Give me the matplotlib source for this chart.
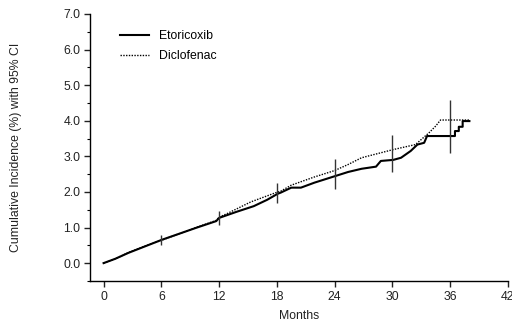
import numpy as np
import matplotlib as mpl
mpl.use('agg')
import matplotlib.pyplot as plt
from matplotlib.ticker import MultipleLocator, FormatStrFormatter

plt.rcParams['font.family'] = ['Liberation Sans', 'DejaVu Sans']

# Etoricoxib cumulative incidence (%)
eto_months = [0, 1.2, 2.6, 4.3, 6.0, 7.8, 9.6, 11.7, 12.0, 13.8, 15.6, 17.0, 18.1, 18.4,
              19.5, 20.5, 21.9, 24.0, 25.4, 26.8, 28.3, 28.8, 30.1, 30.9, 31.9, 32.6,
              33.3, 33.6, 36.1, 36.5, 36.5, 36.9, 36.9, 37.3, 37.3, 38.0]
eto_vals = [0.0, 0.12, 0.29, 0.47, 0.65, 0.82, 0.99, 1.18, 1.27, 1.44, 1.60, 1.78, 1.95, 1.98,
            2.12, 2.12, 2.26, 2.44, 2.56, 2.65, 2.71, 2.87, 2.90, 2.96, 3.15, 3.33,
            3.38, 3.57, 3.57, 3.57, 3.71, 3.71, 3.83, 3.83, 3.99, 3.99]

# Diclofenac cumulative incidence (%)
dic_months = [0, 1.2, 2.6, 4.3, 6.0, 7.8, 9.6, 11.7, 12.0, 12.9, 15.3, 17.9, 18.4, 19.5,
              21.9, 24.0, 25.4, 26.8, 30.1, 32.4, 33.2, 33.8, 34.5, 35.0, 38.0]
dic_vals = [0.0, 0.12, 0.30, 0.48, 0.64, 0.82, 1.00, 1.20, 1.29, 1.40, 1.72, 1.98, 2.02, 2.19,
            2.42, 2.60, 2.77, 2.96, 3.19, 3.33, 3.52, 3.66, 3.85, 4.02, 4.02]

# 95% CI bars (Etoricoxib)
ci_months = [6, 12, 18, 24, 30, 36]
ci_low = [0.50, 1.08, 1.70, 2.08, 2.55, 3.10]
ci_high = [0.80, 1.46, 2.26, 2.92, 3.61, 4.57]

fs = 8.8

fig = plt.figure(figsize=(5.12, 3.24), dpi=100)
ax = fig.add_axes([0.176, 0.133, 0.816, 0.824])

ax.plot(eto_months, eto_vals, '-', color='black', linewidth=1.5, label='Etoricoxib')
ax.plot(dic_months, dic_vals, linestyle=(0, (1, 1)), color='black', linewidth=1.0,
        label='Diclofenac')
ax.vlines(ci_months, ci_low, ci_high, colors='0.2', linewidth=1.0)

ax.set_xlim(-1.4, 42)
ax.set_ylim(-0.5, 7.0)
ax.set_xticks(np.arange(0, 43, 6))
ax.yaxis.set_minor_locator(MultipleLocator(0.5))
ax.yaxis.set_major_formatter(FormatStrFormatter('%.1f'))
ax.set_yticks(np.arange(0, 7.1, 1.0))

for s in ['top', 'right']:
    ax.spines[s].set_visible(False)
for s in ['left', 'bottom']:
    ax.spines[s].set_linewidth(1.0)
ax.tick_params(axis='both', which='major', direction='out', length=4, width=1,
               labelsize=fs, pad=3, colors='#222222', labelcolor='#222222')
ax.tick_params(axis='y', which='minor', direction='out', length=2, width=0.8)

ax.set_xlabel('Months', fontsize=fs, labelpad=5, color='#222222')
ax.set_ylabel('Cumulative Incidence (%) with 95% CI', fontsize=fs, labelpad=30,
              color='#222222')

ax.legend(loc='upper left', bbox_to_anchor=(0.045, 0.98), frameon=False, fontsize=fs,
          handlelength=2.4, handletextpad=0.8, labelspacing=0.65)

fig.savefig('out.png', dpi=100)
